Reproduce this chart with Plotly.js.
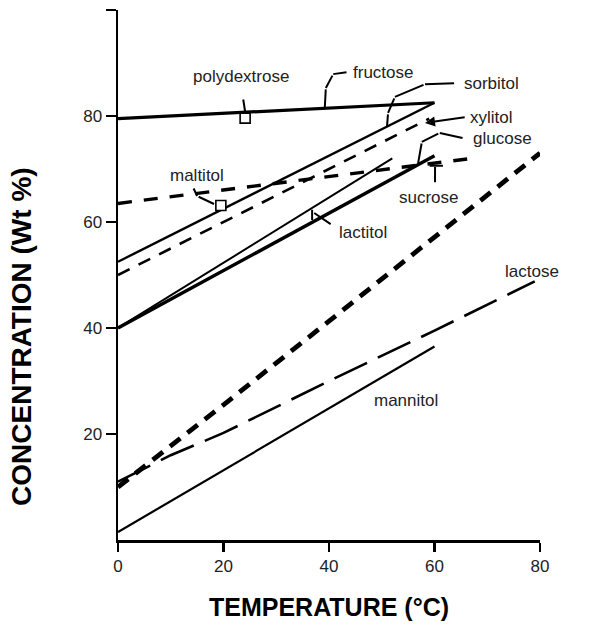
<!DOCTYPE html>
<html>
<head>
<meta charset="utf-8">
<script src="https://cdn.plot.ly/plotly-3.0.1.min.js"></script>
<style>html,body{margin:0;padding:0;background:#fff;}#chart{width:604px;height:628px;}</style>
</head>
<body>
<div id="chart"></div>
<script>
// ---- data ----
const fructoseX = [0, 60];   const fructoseY = [79.5, 82.5];
const sorbitolX = [0, 60];   const sorbitolY = [52.5, 82.5];
const xylitolX  = [0, 59];   const xylitolY  = [50, 79.5];
const glucoseX  = [0, 60];   const glucoseY  = [40, 72.5];
const lactitolX = [0, 52];   const lactitolY = [40, 72];
const sucroseX  = [0, 67];   const sucroseY  = [63.5, 72];
const isomaltX  = [0, 20, 40, 60, 80];      const isomaltY = [10, 25.5, 41.3, 57.2, 73];
const lactoseX  = [0, 10, 20, 40, 60, 79];  const lactoseY = [11, 16, 20.2, 30, 39.5, 48.8];
const mannitolX = [0, 60];   const mannitolY = [1.5, 36.5];
const polydextroseX = [24.1]; const polydextroseY = [79.6];
const maltitolX = [19.5];     const maltitolY = [63.1];

const xTickVals = [0, 20, 40, 60, 80];
const xTickText = ['0', '20', '40', '60', '80'];
const yTickVals = [20, 40, 60, 80, 100];
const yTickText = ['20', '40', '60', '80', ''];

const FONT = 'Liberation Sans, Arial, Helvetica, sans-serif';

function line(name, x, y, width, dash) {
  return {type: 'scatter', mode: 'lines', name: name, x: x, y: y,
          line: {color: '#000', width: width, dash: dash || 'solid'}, hoverinfo: 'name+x+y'};
}
function pt(name, x, y) {
  return {type: 'scatter', mode: 'markers', name: name, x: x, y: y,
          marker: {symbol: 'square-open', size: 10, color: '#000', line: {width: 1.6, color: '#000'}},
          hoverinfo: 'name+x+y'};
}

const traces = [
  line('fructose', fructoseX, fructoseY, 3.2),
  line('sorbitol', sorbitolX, sorbitolY, 2.4),
  line('xylitol', xylitolX, xylitolY, 2.6, '13px,10px'),
  line('glucose', glucoseX, glucoseY, 3.4),
  line('lactitol', lactitolX, lactitolY, 2.0),
  line('sucrose', sucroseX, sucroseY, 3.4, '14px,12px'),
  line('isomalt', isomaltX, isomaltY, 4.8, '13px,9px'),
  line('lactose', lactoseX, lactoseY, 2.6, '36px,12px'),
  line('mannitol', mannitolX, mannitolY, 2.2),
  {type:'scatter', mode:'markers', x: polydextroseX, y: polydextroseY, showlegend:false, hoverinfo:'skip',
   marker:{symbol:'square', size:9, color:'#fff'}},
  {type:'scatter', mode:'markers', x: maltitolX, y: maltitolY, showlegend:false, hoverinfo:'skip',
   marker:{symbol:'square', size:9, color:'#fff'}},
  pt('polydextrose', polydextroseX, polydextroseY),
  pt('maltitol', maltitolX, maltitolY)
];

// text labels
const labels = [
  ['polydextrose', 23.3, 87.4],
  ['fructose', 50.3, 88.3],
  ['sorbitol', 70.8, 86.2],
  ['xylitol', 70.8, 79.8],
  ['glucose', 72.8, 75.8],
  ['isomalt', 86.8, 72.1],
  ['sucrose', 59.0, 64.7],
  ['lactitol', 46.5, 58.1],
  ['maltitol', 15.0, 68.7],
  ['lactose', 78.5, 50.6],
  ['mannitol', 54.6, 26.4]
];
// leader polylines
const leaders = [
  [[23.7, 83.4], [24.1, 80.8]],
  [[43.6, 88.3], [40.8, 87.9], [39.4, 85.3], [39.2, 81.5]],
  [[64.0, 86.2], [58.2, 86.0], [52.5, 83.6], [51.2, 80.6], [51.0, 78.1]],
  [[65.6, 75.8], [61.0, 76.8], [57.6, 75.1], [56.9, 71.1]],
  [[60.1, 67.2], [60.1, 70.4]],
  [[58.8, 70.6], [61.6, 70.6]],
  [[40.6, 59.4], [37.2, 61.7]],
  [[36.8, 62.6], [36.8, 60.4]],
  [[14.2, 66.6], [15.0, 64.9], [18.2, 63.4]]
];

const annotations = labels.map(l => ({
  text: l[0], x: l[1], y: l[2], xref: 'x', yref: 'y', showarrow: false,
  font: {family: FONT, size: 17, color: '#222'}
}));
leaders.forEach(seg => {
  for (let i = 0; i < seg.length - 1; i++) {
    annotations.push({text: '', xref: 'x', yref: 'y', axref: 'x', ayref: 'y',
      ax: seg[i][0], ay: seg[i][1], x: seg[i+1][0], y: seg[i+1][1],
      showarrow: true, arrowhead: 0, arrowwidth: 2, arrowcolor: '#000', standoff: 0, startstandoff: 0});
  }
});
// xylitol arrow
annotations.push({text: '', xref: 'x', yref: 'y', axref: 'x', ayref: 'y',
  ax: 66.0, ay: 79.8, x: 58.2, y: 78.7, showarrow: true, arrowhead: 2, arrowsize: 1,
  arrowwidth: 2, arrowcolor: '#000', standoff: 0});
// y-axis title (placed lower than plot centre, as in the reference)
annotations.push({text: '<b>CONCENTRATION (Wt %)</b>', xref: 'paper', yref: 'paper',
  x: -0.2275, y: 0.385, textangle: -90, showarrow: false, xanchor: 'center', yanchor: 'middle',
  font: {family: FONT, size: 28, color: '#000'}});

const layout = {
  width: 604, height: 628,
  margin: {l: 118, r: 64, t: 10, b: 88},
  paper_bgcolor: '#fff', plot_bgcolor: '#fff',
  showlegend: false,
  font: {family: FONT, color: '#222'},
  xaxis: {
    range: [0, 80], tickvals: xTickVals, ticktext: xTickText,
    showgrid: false, zeroline: false, showline: true, linecolor: '#000', linewidth: 2.5,
    ticks: 'outside', ticklen: 9, tickwidth: 2.5, tickcolor: '#000',
    tickfont: {family: FONT, size: 17, color: '#222'},
    title: {text: '<b>TEMPERATURE (°C)</b>', font: {family: FONT, size: 25, color: '#000'}, standoff: 24}
  },
  yaxis: {
    range: [0, 100], tickvals: yTickVals, ticktext: yTickText,
    showgrid: false, zeroline: false, showline: true, linecolor: '#000', linewidth: 2.5,
    ticks: 'outside', ticklen: 10, tickwidth: 2.5, tickcolor: '#000',
    tickfont: {family: FONT, size: 17, color: '#222'}
  },
  annotations: annotations
};

Plotly.newPlot('chart', traces, layout, {displayModeBar: false, staticPlot: true});
</script>
</body>
</html>
